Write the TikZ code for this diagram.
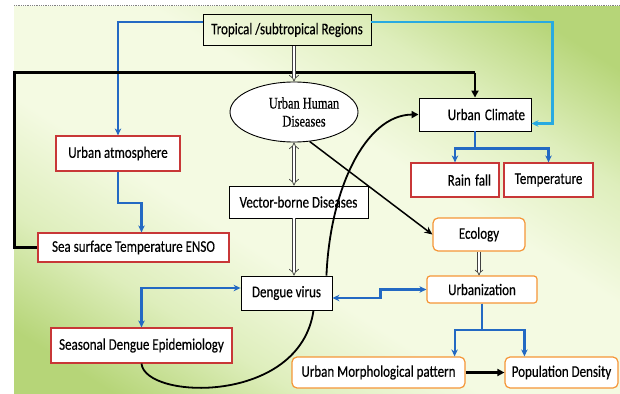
\documentclass[tikz,border=0pt]{standalone}
\usepackage{fontspec}
\setmainfont{Carlito}[FakeBold=0.4]
\newfontfamily\serifx{Liberation Serif}[FakeBold=0.5]
\usetikzlibrary{arrows.meta,shapes.geometric,calc}
\definecolor{bgpale}{RGB}{244,250,226}
\definecolor{bgmid}{RGB}{222,238,188}
\definecolor{bggreen}{RGB}{182,213,120}
\definecolor{lineblue}{RGB}{35,105,195}
\definecolor{linecyan}{RGB}{40,170,225}
\definecolor{boxred}{RGB}{200,55,55}
\definecolor{boxorange}{RGB}{245,150,55}
\pgfdeclareverticalshading{bgband}{100bp}{color(0bp)=(bggreen); color(28bp)=(bggreen); color(36bp)=(bgmid); color(44bp)=(bgpale); color(56bp)=(bgpale); color(64bp)=(bgmid); color(72bp)=(bggreen); color(100bp)=(bggreen)}
\newcommand{\tx}[1]{\scalebox{1}[1.25]{#1}}
\tikzset{
  lbl/.style={font=\fontsize{13}{15}\selectfont, inner sep=0pt, fill=white, line width=0.9pt},
  blk/.style={lbl, draw=black},
  redb/.style={lbl, draw=boxred, line width=1.2pt},
  orb/.style={lbl, draw=boxorange, line width=1.2pt, rounded corners=5pt},
  bl/.style={draw=lineblue, line width=2.2pt, -{Stealth[length=7pt,width=6.5pt]}},
  bl2/.style={draw=lineblue, line width=2.2pt, {Stealth[length=7pt,width=6.5pt]}-{Stealth[length=7pt,width=6.5pt]}},
  cy/.style={draw=linecyan, line width=2.2pt, -{Stealth[length=7pt,width=6.5pt]}},
  bk/.style={draw=black, line width=2.2pt},
  bka/.style={bk, -{Triangle[length=7pt,width=7pt]}},
  hol/.style={draw=black!75, double=white, double distance=2.8pt, line width=0.7pt, -{Implies}},
  hol2/.style={draw=black!75, double=white, double distance=2.8pt, line width=0.7pt, {Implies}-{Implies}}
}
\begin{document}
\begin{tikzpicture}[x=1pt,y=-1pt]
\useasboundingbox (0,0) rectangle (620,393);
\begin{scope}
  \clip (14,7) rectangle (620,393);
  \shade[shading=bgband, shading angle=-32.4] (7,-110) rectangle (627,510);
\end{scope}
\draw[gray, densely dotted, line width=0.8pt] (14,5) -- (620,5);

% nodes
\node[blk, fill=none, minimum width=168pt, minimum height=31pt] (trop) at (287,30) {\tx{Tropical /subtropical Regions}};
\node[ellipse, draw=black, fill=white, line width=0.9pt, minimum width=128pt, minimum height=60pt, inner sep=0pt,
      font=\serifx\fontsize{13}{18}\selectfont, align=center] (ell) at (294,112)
      {\hspace*{20pt}\scalebox{0.95}[1.25]{Urban Human}\\\hspace*{20pt}\scalebox{0.95}[1.25]{Diseases}};
\node[blk, minimum width=112pt, minimum height=33pt, text width=100pt, inner xsep=6pt, align=right] (uclim) at (475,114.5) {\tx{Urban Climate}};
\node[redb, minimum width=124pt, minimum height=35pt] (uatm) at (118,153.5) {\tx{Urban atmosphere}};
\node[redb, minimum width=191pt, minimum height=29pt] (sst) at (133.5,247.5) {\tx{Sea surface Temperature ENSO}};
\node[blk, minimum width=139pt, minimum height=32pt] (vbd) at (298.5,202) {\tx{Vector-borne Diseases}};
\node[redb, minimum width=88pt, minimum height=34pt, text width=72pt, inner xsep=8pt, align=right] (rain) at (455,180) {\tx{Rain fall}};
\node[redb, minimum width=89pt, minimum height=34pt] (temp) at (548.5,180) {\tx{Temperature}};
\node[orb, minimum width=92pt, minimum height=33pt] (eco) at (479,234.5) {\tx{Ecology}};
\node[blk, minimum width=91pt, minimum height=34pt] (dengue) at (286.5,293) {\tx{Dengue virus}};
\node[orb, rounded corners=3pt, minimum width=110pt, minimum height=27pt] (urb) at (482,289.5) {\tx{Urbanization}};
\node[redb, minimum width=181pt, minimum height=35pt] (sde) at (141.5,345.5) {\tx{Seasonal Dengue Epidemiology}};
\node[orb, minimum width=173pt, minimum height=31pt] (ump) at (378.5,372.5) {\tx{Urban Morphological pattern}};
\node[orb, minimum width=113pt, minimum height=31pt] (pd) at (561.5,372.5) {\tx{Population Density}};

% connectors
\draw[bl] ([yshift=8pt]trop.west) -| (uatm.north);
\draw[cy] ([yshift=8pt]trop.east) -| ([xshift=21pt,yshift=-9pt]uclim.east) -- ([yshift=-9pt]uclim.east);
\draw[bk] (sst.west) -- ++(-23,0) |- ([yshift=25pt]uclim.north);
\draw[bka] ([yshift=25pt]uclim.north) -- (uclim.north);
\draw[bl] (uatm.south) -- ++(0,31) -| ([xshift=8pt]sst.north);
\draw[hol] (ell.north |- trop.south) -- (ell.north);
\draw[hol2] (ell.south) -- (ell.south |- vbd.north);
\draw[hol] (ell.south |- vbd.south) -- (ell.south |- dengue.north);
\draw[bk, line width=1.5pt, -{Stealth[length=8pt,width=7pt]}] (ell.-62) -- (eco.west);
\draw[bl] (uclim.south) -- ++(0,17) -| (rain.north);
\draw[bl] (uclim.south) -- ++(0,17) -| (temp.north);
\draw[hol, double distance=2.2pt] (eco.south) -- (eco.south |- urb.north);
\draw[bl2] ([yshift=-5pt]dengue.east) -- ++(48,0) |- (urb.west);
\draw[bl2] ([yshift=5pt]dengue.west) -| (sde.north);
\draw[bl] (urb.south) -- ++(0,26) -| ([xshift=-11pt]ump.north east);
\draw[bl] (urb.south) -- ++(0,26) -| ([xshift=20pt]pd.north west);
\draw[bka] (ump.east) -- (pd.west);
\draw[bk, line width=1.8pt] (sde.south) .. controls (145,400) and (300,405) .. ([xshift=27pt]dengue.south);
\draw[bk, line width=1.8pt, -{Triangle[length=7pt,width=7pt]}] ([xshift=-6pt]dengue.north east) .. controls (330,190) and (365,115) .. (uclim.west);
\end{tikzpicture}
\end{document}
